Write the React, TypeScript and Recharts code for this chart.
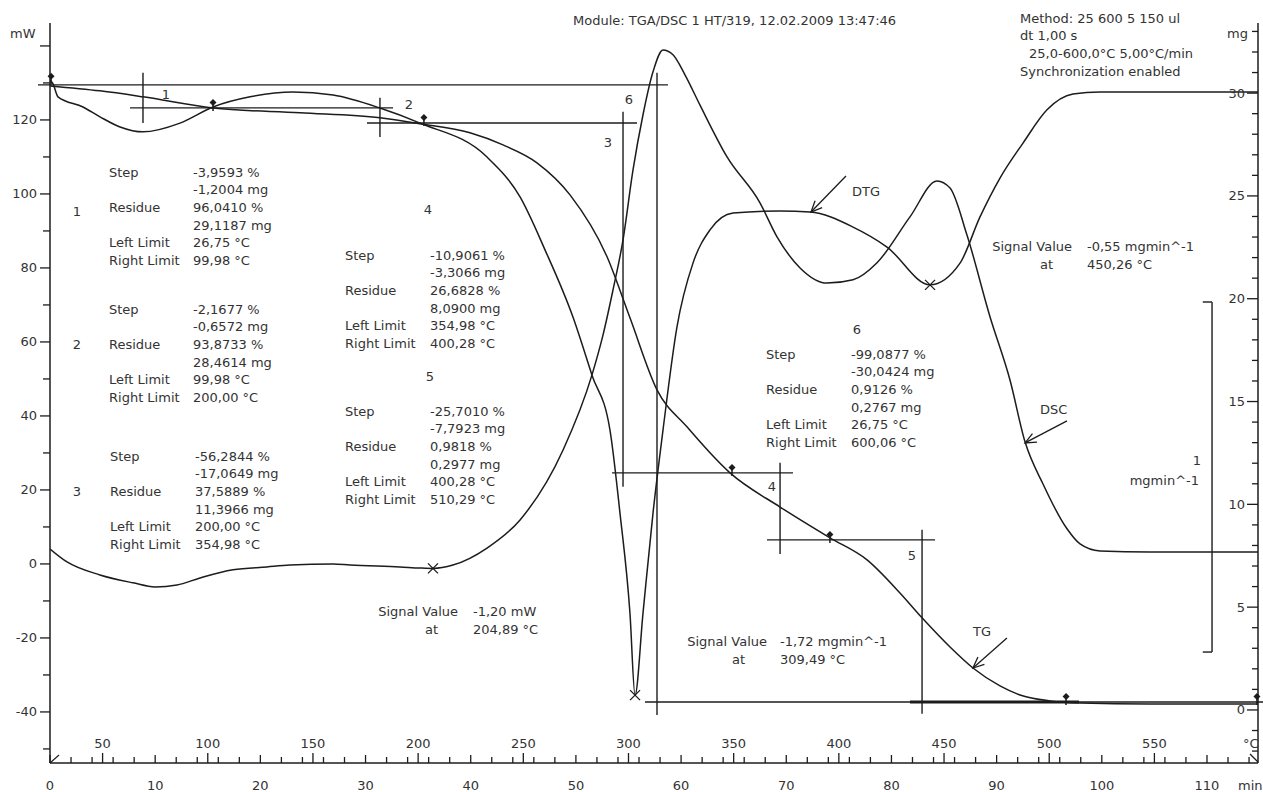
import React from "react";
import {
  ComposedChart,
  Line,
  XAxis,
  YAxis,
  ReferenceLine,
  ReferenceDot,
  Customized,
} from "recharts";

const INK = "#1c1c1c";
const TEXT = "#333";
const FONT = "'DejaVu Sans', Verdana, sans-serif";

// time axis (min) and sample temperature labels (25 °C start, 5 °C/min)
const minuteLabels = [0, 10, 20, 30, 40, 50, 60, 70, 80, 90, 100, 110];
const tempLabels = [50, 100, 150, 200, 250, 300, 350, 400, 450, 500, 550];
const mwTicks = [-50, -40, -30, -20, -10, 0, 10, 20, 30, 40, 50, 60, 70, 80, 90, 100, 110, 120, 130, 140];
const mwLabels = [-40, -20, 0, 20, 40, 60, 80, 100, 120];
const mgTicks = [-2, -1, 0, 1, 2, 3, 4, 5, 6, 7, 8, 9, 10, 11, 12, 13, 14, 15, 16, 17, 18, 19, 20, 21, 22, 23, 24, 25, 26, 27, 28, 29, 30, 31, 32, 33];
const mgLabels = [0, 5, 10, 15, 20, 25, 30];

// DSC heat flow, mW
const dscTime = [0, 1.62, 4.75, 7.89, 9.98, 12.07, 14.26, 17.4, 20.63, 22.81, 26.91, 28.52, 33.28, 35.18, 36.41, 38.31, 41.55, 44.69, 48.78, 51.53, 52.58, 53.53, 54.48, 55.43, 56.38, 57.33, 58.28, 59.23, 60.37, 61.8, 64.37, 67.5, 69.12, 71.31, 73.87, 76.35, 78.63, 81.76, 84.33, 85.57, 87.18, 89.37, 91.27, 92.7, 94.41, 96.69, 97.93, 99.83, 104.58, 114.85];
const dscPower = [4.05, 0.54, -2.97, -5.1, -6.2, -5.7, -3.8, -1.6, -0.8, -0.3, 0, -0.3, -0.8, -1.1, -1.2, -0.3, 4.3, 11.9, 30.8, 51.1, 61.9, 74.1, 87.6, 106.5, 121.4, 133.0, 138.9, 137.6, 132.2, 124.0, 110.0, 97.6, 88.4, 80.0, 75.9, 76.8, 81.4, 93.8, 103.5, 101.6, 88.9, 66.8, 49.7, 33.0, 21.6, 9.5, 5.4, 3.5, 3.2, 3.2];

// TG sample mass, mg
const tgTime = [0, 4.75, 8.84, 15.5, 23.77, 31.37, 35.18, 39.93, 43.07, 46.3, 49.44, 52.96, 55.14, 57.71, 60.56, 64.65, 69.41, 74.16, 77.68, 80.81, 82.91, 85.57, 87.75, 90.32, 92.22, 95.07, 97.93, 104.58, 114.85];
const tgMass = [30.35, 30.11, 29.82, 29.28, 29.04, 28.8, 28.51, 28.07, 27.48, 26.61, 25.05, 22.04, 19.07, 15.57, 13.77, 11.53, 9.87, 8.37, 7.3, 5.69, 4.48, 3.06, 2.04, 1.17, 0.73, 0.44, 0.34, 0.29, 0.29];

// DTG, mg/min
const dtgTime = [0, 0.29, 0.76, 3.14, 4.75, 6.66, 8.84, 12.36, 15.5, 19.02, 23.1, 26.91, 31.37, 35.18, 41.55, 44.69, 47.06, 49.72, 51.53, 53.24, 54.19, 55.14, 55.62, 56.38, 57.33, 58.28, 59.61, 61.13, 62.75, 64.94, 69.41, 72.26, 76.35, 79.58, 83.67, 86.52, 88.42, 90.32, 92.51, 94.79, 97.26, 99.83, 114.85];
const dtgRate = [0.034, 0.023, -0.014, -0.043, -0.071, -0.1, -0.114, -0.089, -0.043, -0.014, 0, -0.009, -0.046, -0.089, -0.186, -0.3, -0.451, -0.643, -0.809, -0.966, -1.203, -1.489, -1.723, -1.489, -1.203, -0.966, -0.671, -0.489, -0.394, -0.346, -0.34, -0.343, -0.386, -0.443, -0.551, -0.489, -0.357, -0.246, -0.146, -0.051, -0.006, 0, 0];

// step evaluation construction lines on the TG curve: [t1, mg1, t2, mg2]
const stepSegments = [
  [-1.14, 30.4, 58.76, 30.4],
  [57.71, 30.99, 57.71, -0.24],
  [56.57, 0.39, 115.33, 0.39],
  [8.84, 30.99, 8.84, 28.55],
  [7.61, 29.28, 32.61, 29.28],
  [31.37, 29.77, 31.37, 27.87],
  [30.14, 28.55, 55.81, 28.55],
  [54.48, 29.09, 54.48, 10.85],
  [53.43, 11.53, 70.64, 11.53],
  [69.41, 12.02, 69.41, 7.59],
  [68.17, 8.27, 84.14, 8.27],
  [82.91, 8.76, 82.91, -0.19],
];
const step5Base = [81.76, 0.39, 97.83, 0.39];
const markTime = [0.1, 15.5, 35.55, 64.84, 74.15, 96.6, 114.75];
const markMass = [30.55, 29.28, 28.55, 11.53, 8.27, 0.39, 0.39];

// signal value picks
const dscPick = { t: 36.41, v: -1.2 };
const dtgPicks = [
  { t: 55.62, v: -1.723 },
  { t: 83.67, v: -0.551 },
];

const stepRowLabels = ["Step", "", "Residue", "", "Left Limit", "Right Limit"];
const stepValues = [
  ["-3,9593 %", "-1,2004 mg", "96,0410 %", "29,1187 mg", "26,75 °C", "99,98 °C"],
  ["-2,1677 %", "-0,6572 mg", "93,8733 %", "28,4614 mg", "99,98 °C", "200,00 °C"],
  ["-56,2844 %", "-17,0649 mg", "37,5889 %", "11,3966 mg", "200,00 °C", "354,98 °C"],
  ["-10,9061 %", "-3,3066 mg", "26,6828 %", "8,0900 mg", "354,98 °C", "400,28 °C"],
  ["-25,7010 %", "-7,7923 mg", "0,9818 %", "0,2977 mg", "400,28 °C", "510,29 °C"],
  ["-99,0877 %", "-30,0424 mg", "0,9126 %", "0,2767 mg", "26,75 °C", "600,06 °C"],
];

const dscData = dscTime.map((t, i) => ({ t, v: dscPower[i] }));
const tgData = tgTime.map((t, i) => ({ t, v: tgMass[i] }));
const dtgData = dtgTime.map((t, i) => ({ t, v: dtgRate[i] }));

const evenMinutes = Array.from({ length: 58 }, (_, i) => i * 2);
const tempMinutes = tempLabels.map((T) => (T - 25) / 5);
const timeTicks = Array.from(new Set([...evenMinutes, ...tempMinutes])).sort((a, b) => a - b);

const txt = { fontFamily: FONT, fontSize: 13, fill: TEXT } as const;

function TimeTick(props: any) {
  const { x, y, payload } = props;
  const t = payload.value as number;
  const isMin = minuteLabels.includes(t);
  const ti = tempMinutes.indexOf(t);
  const len = ti >= 0 ? 10 : isMin ? 8 : 6;
  return (
    <g>
      <line x1={x} x2={x} y1={y} y2={y - len} stroke={INK} strokeWidth={1.3} />
      {isMin && (
        <text x={x} y={y + 22} textAnchor="middle" dominantBaseline="central" {...txt}>
          {t}
        </text>
      )}
      {ti >= 0 && (
        <text x={x} y={y - 20} textAnchor="middle" dominantBaseline="central" {...txt}>
          {tempLabels[ti]}
        </text>
      )}
    </g>
  );
}

function LeftTick(props: any) {
  const { x, y, payload } = props;
  const v = payload.value as number;
  const major = v % 20 === 0;
  return (
    <g>
      <line x1={x - (major ? 10 : 7)} x2={x} y1={y} y2={y} stroke={INK} strokeWidth={1.3} />
      {mwLabels.includes(v) && (
        <text x={x - 13} y={y} textAnchor="end" dominantBaseline="central" {...txt}>
          {v}
        </text>
      )}
    </g>
  );
}

function RightTick(props: any) {
  const { x, y, payload } = props;
  const v = payload.value as number;
  const major = mgLabels.includes(v);
  return (
    <g>
      <line x1={x - (major ? 11 : 6)} x2={x} y1={y} y2={y} stroke={INK} strokeWidth={1.3} />
      {major && (
        <text x={x - 13} y={y} textAnchor="end" dominantBaseline="central" {...txt}>
          {v}
        </text>
      )}
    </g>
  );
}

function StepMark(props: any) {
  const { cx, cy } = props;
  return (
    <g>
      <line x1={cx} x2={cx} y1={cy - 3} y2={cy + 3} stroke={INK} strokeWidth={1.5} />
      <path d={`M${cx} ${cy - 9} L${cx + 3.5} ${cy - 5.5} L${cx} ${cy - 2} L${cx - 3.5} ${cy - 5.5} Z`} fill={INK} />
    </g>
  );
}

function CrossMark(props: any) {
  const { cx, cy } = props;
  const s = 5;
  return (
    <g stroke={INK} strokeWidth={1.3}>
      <line x1={cx - s} y1={cy - s} x2={cx + s} y2={cy + s} />
      <line x1={cx - s} y1={cy + s} x2={cx + s} y2={cy - s} />
    </g>
  );
}

function arrowShape(dx: number, dy: number) {
  return (props: any) => {
    const { cx, cy } = props;
    const len = Math.hypot(dx, dy);
    const ux = dx / len;
    const uy = dy / len;
    const h = 12;
    const a = 0.42;
    const p1x = cx + h * (ux * Math.cos(a) - uy * Math.sin(a));
    const p1y = cy + h * (ux * Math.sin(a) + uy * Math.cos(a));
    const p2x = cx + h * (ux * Math.cos(-a) - uy * Math.sin(-a));
    const p2y = cy + h * (ux * Math.sin(-a) + uy * Math.cos(-a));
    return (
      <g stroke={INK} strokeWidth={1.3} fill="none">
        <line x1={cx} y1={cy} x2={cx + dx} y2={cy + dy} />
        <polyline points={`${p1x},${p1y} ${cx},${cy} ${p2x},${p2y}`} />
      </g>
    );
  };
}

function Notes() {
  const blocks = [
    { num: "1", nx: 77, ny: 211, lx: 109, vx: 193, top: 172 },
    { num: "2", nx: 77, ny: 344, lx: 109, vx: 193, top: 309 },
    { num: "3", nx: 77, ny: 491, lx: 110, vx: 195, top: 456 },
    { num: "4", nx: 428, ny: 209, lx: 345, vx: 430, top: 255 },
    { num: "5", nx: 430, ny: 376, lx: 345, vx: 430, top: 411 },
    { num: "6", nx: 857, ny: 329, lx: 766, vx: 851, top: 354 },
  ];
  const free: [string, number, number, string][] = [
    ["Module: TGA/DSC 1 HT/319, 12.02.2009 13:47:46", 573, 20, "start"],
    ["Method: 25 600 5 150 ul", 1020, 18, "start"],
    ["dt 1,00 s", 1020, 35, "start"],
    ["25,0-600,0°C 5,00°C/min", 1029, 53, "start"],
    ["Synchronization enabled", 1020, 71, "start"],
    ["mW", 10, 33, "start"],
    ["mg", 1227, 33, "start"],
    ["min", 1238, 785, "start"],
    ["°C", 1243, 743, "start"],
    ["Signal Value", 458, 611, "end"],
    ["-1,20 mW", 473, 611, "start"],
    ["at", 425, 629, "start"],
    ["204,89 °C", 473, 629, "start"],
    ["Signal Value", 767, 641, "end"],
    ["-1,72 mgmin^-1", 780, 641, "start"],
    ["at", 732, 659, "start"],
    ["309,49 °C", 780, 659, "start"],
    ["Signal Value", 1072, 246, "end"],
    ["-0,55 mgmin^-1", 1087, 246, "start"],
    ["at", 1040, 264, "start"],
    ["450,26 °C", 1087, 264, "start"],
    ["1", 166, 94, "middle"],
    ["2", 409, 104, "middle"],
    ["6", 629, 99, "middle"],
    ["3", 608, 142, "middle"],
    ["4", 772, 486, "middle"],
    ["5", 912, 555, "middle"],
    ["DTG", 852, 191, "start"],
    ["DSC", 1040, 409, "start"],
    ["TG", 973, 631, "start"],
    ["1", 1197, 460, "middle"],
    ["mgmin^-1", 1199, 480, "end"],
  ];
  return (
    <g>
      {blocks.map((b, bi) => (
        <g key={bi}>
          <text x={b.nx} y={b.ny} textAnchor="middle" dominantBaseline="central" {...txt}>
            {b.num}
          </text>
          {stepRowLabels.map((lab, ri) => (
            <g key={ri}>
              {lab && (
                <text x={b.lx} y={b.top + ri * 17.7} dominantBaseline="central" {...txt}>
                  {lab}
                </text>
              )}
              <text x={b.vx} y={b.top + ri * 17.7} dominantBaseline="central" {...txt}>
                {stepValues[bi][ri]}
              </text>
            </g>
          ))}
        </g>
      ))}
      {free.map(([s, x, y, a], i) => (
        <text key={i} x={x} y={y} textAnchor={a as any} dominantBaseline="central" {...txt}>
          {s}
        </text>
      ))}
      <line x1={50} y1={763} x2={59} y2={755} stroke={INK} strokeWidth={1.2} />
      <line x1={1250} y1={754} x2={1258} y2={762} stroke={INK} strokeWidth={1.2} />
    </g>
  );
}

export default function App() {
  return (
    <div style={{ position: "absolute", left: 0, top: 0, width: 1263, height: 792, background: "#fff" }}>
      <ComposedChart width={1263} height={792} margin={{ top: 23, right: 5, bottom: 0, left: 0 }}>
        <XAxis
          type="number"
          dataKey="t"
          domain={[0, 114.85]}
          allowDataOverflow
          ticks={timeTicks}
          interval={0}
          tick={(p: any) => <TimeTick {...p} />}
          tickLine={false}
          tickSize={0}
          tickMargin={0}
          height={29}
          axisLine={{ stroke: INK, strokeWidth: 1.5 }}
        />
        <YAxis
          yAxisId="dsc"
          orientation="left"
          width={50}
          type="number"
          domain={[-53.8, 146.2]}
          allowDataOverflow
          ticks={mwTicks}
          interval={0}
          tick={(p: any) => <LeftTick {...p} />}
          tickLine={false}
          tickSize={0}
          tickMargin={0}
          axisLine={{ stroke: INK, strokeWidth: 1.5 }}
        />
        <YAxis
          yAxisId="mg"
          orientation="right"
          mirror
          width={40}
          type="number"
          domain={[-2.58, 33.41]}
          allowDataOverflow
          ticks={mgTicks}
          interval={0}
          tick={(p: any) => <RightTick {...p} />}
          tickLine={false}
          tickSize={0}
          tickMargin={0}
          axisLine={{ stroke: INK, strokeWidth: 1.5 }}
        />
        <YAxis yAxisId="dtg" hide type="number" domain={[-1.917, 0.197]} allowDataOverflow />

        {stepSegments.map((s, i) => (
          <ReferenceLine
            key={`seg${i}`}
            yAxisId="mg"
            segment={[
              { x: s[0], y: s[1] },
              { x: s[2], y: s[3] },
            ]}
            stroke={INK}
            strokeWidth={1.4}
            ifOverflow="visible"
          />
        ))}
        <ReferenceLine
          yAxisId="mg"
          segment={[
            { x: step5Base[0], y: step5Base[1] },
            { x: step5Base[2], y: step5Base[3] },
          ]}
          stroke={INK}
          strokeWidth={3}
          ifOverflow="visible"
        />

        {/* 1 mg/min scale bar for the DTG curve */}
        <ReferenceLine yAxisId="dtg" segment={[{ x: 110.48, y: -0.6 }, { x: 110.48, y: -1.6 }]} stroke={INK} strokeWidth={1.4} ifOverflow="visible" />
        <ReferenceLine yAxisId="dtg" segment={[{ x: 109.6, y: -0.6 }, { x: 110.48, y: -0.6 }]} stroke={INK} strokeWidth={1.4} ifOverflow="visible" />
        <ReferenceLine yAxisId="dtg" segment={[{ x: 109.6, y: -1.6 }, { x: 110.48, y: -1.6 }]} stroke={INK} strokeWidth={1.4} ifOverflow="visible" />

        <Line yAxisId="dsc" data={dscData} dataKey="v" type="monotone" stroke={INK} strokeWidth={1.5} dot={false} isAnimationActive={false} />
        <Line yAxisId="mg" data={tgData} dataKey="v" type="monotone" stroke={INK} strokeWidth={1.5} dot={false} isAnimationActive={false} />
        <Line yAxisId="dtg" data={dtgData} dataKey="v" type="monotone" stroke={INK} strokeWidth={1.5} dot={false} isAnimationActive={false} />

        {markTime.map((t, i) => (
          <ReferenceDot key={`m${i}`} yAxisId="mg" x={t} y={markMass[i]} r={3} shape={(p: any) => <StepMark {...p} />} ifOverflow="visible" />
        ))}
        <ReferenceDot yAxisId="dsc" x={dscPick.t} y={dscPick.v} r={4} shape={(p: any) => <CrossMark {...p} />} />
        {dtgPicks.map((d, i) => (
          <ReferenceDot key={`x${i}`} yAxisId="dtg" x={d.t} y={d.v} r={4} shape={(p: any) => <CrossMark {...p} />} />
        ))}

        <ReferenceDot yAxisId="dtg" x={72.35} y={-0.343} r={2} shape={arrowShape(35, -36)} />
        <ReferenceDot yAxisId="dsc" x={92.7} y={32.7} r={2} shape={arrowShape(42, -22)} />
        <ReferenceDot yAxisId="mg" x={87.75} y={2.04} r={2} shape={arrowShape(34, -30)} />

        <Customized component={<Notes />} />
      </ComposedChart>
    </div>
  );
}
